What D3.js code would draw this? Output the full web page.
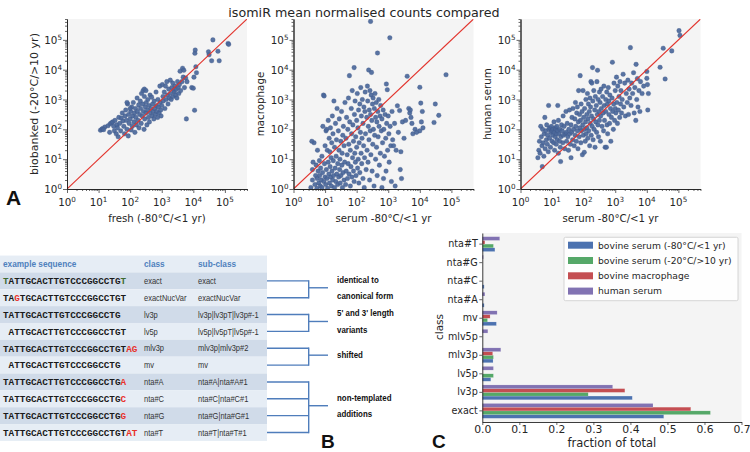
<!DOCTYPE html>
<html><head><meta charset="utf-8">
<script src="https://cdn.jsdelivr.net/npm/d3@7"></script>
<style>body{margin:0;background:#fff;} svg{display:block;}</style>
</head><body><svg id="c" width="750" height="452"></svg>
<script>
// ---------------- DATA ----------------
const title = "isomiR mean normalised counts compared";
// scatter values as log10(mean normalised count): [x, y]
const panelA = [[1.06,1.97],[1.1,2.0],[1.13,2.03],[1.2,2.08],[1.16,1.99],[1.3,2.12],[1.35,1.9],[1.37,2.19],[1.41,2.22],[1.45,2.25],[1.48,2.1],[1.5,1.95],[1.52,2.3],[1.56,1.85],[1.58,2.15],[1.6,2.05],[1.62,1.75],[1.64,2.4],[1.67,2.2],[1.7,1.95],
[1.72,2.38],[1.75,2.55],[1.77,2.28],[1.8,2.1],[1.82,1.85],[1.84,2.45],[1.86,2.65],[1.88,2.3],[1.9,2.0],[1.92,2.85],[1.94,1.78],[1.95,2.5],[1.97,2.2],[2.0,2.35],[2.02,2.6],[2.03,1.98],[2.05,2.75],[2.07,2.1],[2.08,2.45],[2.1,2.9],[2.12,2.25],[2.14,2.55],[2.15,1.9],[2.17,2.7],[2.18,2.4],[2.2,2.15],[2.22,3.05],[2.23,2.6],[2.25,2.3],[2.27,2.82],[2.28,2.05],[2.3,2.5],
[2.32,2.95],[2.33,2.7],[2.35,2.2],[2.36,3.2],[2.38,2.45],[2.4,2.85],[2.41,3.3],[2.42,2.6],[2.44,2.0],[2.45,3.1],[2.46,2.35],[2.48,2.75],[2.5,2.55],[2.51,2.9],[2.53,2.15],[2.55,2.65],[2.56,3.0],[2.58,2.4],[2.6,2.8],[2.61,2.25],[2.63,3.15],[2.64,2.55],[2.66,2.7],[2.68,3.08],[2.7,2.45],[2.71,2.85],[2.73,2.6],[2.75,2.35],[2.76,2.95],[2.78,2.7],[2.8,2.5],[2.82,3.25],[2.83,2.8],[2.85,2.6],[2.87,2.4],[2.88,3.0],[2.9,2.75],[2.92,2.55],[2.94,3.45],[2.95,2.9],[2.97,2.65],[2.98,2.45],[3.0,2.8],[2.45,3.35],[2.5,3.3],[2.0,2.7],[1.9,2.9],
[3.02,3.5],[3.04,3.1],[3.05,2.95],[3.08,3.25],[3.1,2.7],[3.12,3.45],[3.14,3.0],[3.16,3.6],[3.18,3.15],[3.2,2.85],[3.22,3.35],[3.24,3.05],[3.27,3.65],[3.28,3.2],[3.3,3.0],[3.32,3.4],[3.35,3.55],[3.36,3.1],[3.38,3.3],[3.4,3.25],[3.42,3.45],[3.44,3.15],[3.46,3.35],[3.48,3.05],[3.5,3.6],[3.52,3.4],[3.54,3.2],[3.56,3.5],[3.58,3.95],[3.6,3.3],
[3.64,3.6],[3.66,4.05],[3.68,3.75],[3.7,3.98],[3.72,3.4],[3.76,3.72],[3.78,2.35],[3.8,3.6],[3.95,3.4],[4.0,3.38],[4.02,3.75],[4.04,2.64],[4.05,4.55],[4.06,4.66],[4.08,4.1],[4.1,3.9],
[4.48,4.6],[4.5,4.5],[4.58,4.3],[4.62,5.0],[4.78,4.62],[4.82,4.3],[5.1,4.88],[5.12,4.85]];

const panelB = [[0.55,0.05],[0.6,0.3],[0.6,0.65],[0.62,0.9],[0.65,1.55],[0.58,1.6],[0.68,0.15],[0.7,0.45],[0.72,0.8],[0.74,0.02],[0.75,0.35],[0.76,1.3],[0.78,0.6],[0.8,0.2],[0.82,0.95],[0.83,0.45],[0.85,0.1],[0.86,0.7],[0.88,0.3],[0.9,1.1],[0.9,0.05],[0.92,0.55],[0.93,2.1],[0.95,3.15],[0.96,0.25],[0.97,3.12],[0.98,0.85],[1.0,0.4],[1.0,1.45],[1.02,0.15],[1.03,1.95],[1.04,0.65],[1.05,2.0],[1.06,0.35],[1.07,1.3],[1.08,0.02],[1.1,0.9],[1.1,2.3],[1.12,0.5],[1.13,1.7],[1.14,0.2],[1.15,1.25],[1.16,0.75],[1.17,2.05],[1.18,0.4],[1.19,1.05],[1.2,0.1],[1.21,1.55],[1.22,0.6],[1.23,2.45],[1.24,0.3],[1.25,1.85],[1.26,0.95],[1.27,0.45],[1.28,2.95],[1.3,0.05],[1.3,1.4],[1.32,0.7],[1.33,2.2],[1.34,0.25],[1.35,1.1],[1.36,1.65],[1.37,0.5],[1.38,2.7],[1.4,0.15],[1.4,0.85],[1.42,1.95],[1.43,0.4],[1.44,1.3],[1.45,2.35],[1.46,0.65],[1.47,1.0],[1.48,0.2],[1.5,1.6],[1.5,0.45],[1.52,2.6],[1.53,0.8],[1.54,1.2],[1.55,0.05],[1.56,1.8],[1.57,0.55],[1.58,2.1],[1.6,0.3],[1.6,1.45],[1.62,0.9],[1.63,2.9],
[1.65,0.15],[1.66,1.7],[1.67,0.6],[1.68,2.4],[1.7,1.15],[1.71,0.35],[1.72,2.0],[1.73,0.85],[1.74,3.05],[1.75,1.5],[1.76,0.5],[1.77,3.8],[1.78,2.25],[1.8,0.1],[1.8,1.3],[1.82,0.75],[1.83,2.7],[1.84,1.85],[1.85,0.4],[1.86,3.3],[1.87,1.05],[1.88,2.15],[1.9,0.6],[1.9,1.6],[1.92,4.07],[1.92,0.25],[1.93,2.5],[1.94,1.2],[1.95,2.95],[1.96,0.9],[1.97,1.75],[1.98,0.45],[2.0,2.3],[2.0,1.4],[2.02,3.2],[2.03,0.7],[2.04,2.05],[2.05,1.0],[2.06,2.65],[2.07,0.2],[2.08,1.55],[2.1,2.85],[2.1,0.55],[2.12,1.9],[2.13,3.4],[2.14,1.2],[2.15,2.45],[2.16,0.85],[2.17,1.7],[2.18,3.0],[2.2,0.35],[2.2,2.2],[2.22,1.45],[2.23,2.75],[2.24,0.05],[2.25,1.05],[2.26,2.6],[2.27,3.25],[2.28,1.85],[2.3,0.65],
[2.32,2.4],[2.33,1.3],[2.34,3.45],[2.35,2.95],[2.36,0.9],[2.37,2.1],[2.38,3.99],[2.39,1.65],[2.4,2.65],[2.41,0.3],[2.42,3.3],[2.43,1.95],[2.44,5.62],[2.44,2.5],[2.45,1.15],[2.46,3.15],[2.47,3.91],[2.48,2.3],[2.49,0.6],[2.5,2.85],[2.51,1.5],[2.52,3.05],[2.53,2.0],[2.55,0.1],[2.56,2.7],[2.57,1.8],[2.58,3.2],[2.6,2.4],[2.6,1.0],[2.62,2.9],[2.63,1.4],[2.64,2.25],[2.65,0.45],[2.66,4.56],[2.67,2.6],[2.68,1.75],[2.7,3.0],[2.71,2.1],[2.72,0.8],[2.74,2.45],[2.75,1.2],[2.76,2.8],[2.78,1.95],[2.8,0.05],[2.8,2.35],[2.82,1.55],[2.84,2.65],[2.85,0.35],[2.86,2.0],[2.88,1.1],[2.9,2.5],[2.92,1.7],[2.93,0.6],[2.94,3.52],[2.95,2.2],[2.97,3.33],[2.98,1.3],[3.0,2.45],
[3.02,1.85],[3.03,0.9],[3.05,5.07],[3.06,2.1],[3.08,1.45],[3.1,0.25],[3.12,2.6],[3.14,1.65],[3.17,1.45],[3.2,2.2],[3.22,0.1],[3.25,1.3],[3.29,2.79],[3.32,1.9],[3.36,2.63],[3.38,0.65],[3.4,1.25],[3.42,0.35],[3.45,2.25],
[3.5,1.7],[3.55,2.3],[3.6,3.78],[3.65,2.7],[3.68,2.55],[3.7,2.65],[3.72,2.4],[3.75,2.2],[3.78,1.85],[3.85,2.0],[3.9,1.9],[4.0,3.41],[4.0,1.95],[4.03,2.88],[4.05,2.25],[4.08,2.6],[4.1,2.05],[4.45,2.23],[4.49,2.85],[4.6,2.47],[4.83,3.83]];

const panelC = [[0.55,1.05],[0.58,1.3],[0.6,1.6],[0.62,1.2],[0.64,2.1],[0.66,1.75],[0.68,1.45],[0.69,0.75],[0.7,2.0],[0.72,1.55],[0.74,1.1],[0.75,1.85],[0.77,2.4],[0.78,1.35],[0.8,1.95],[0.82,1.65],[0.83,2.15],[0.85,1.5],[0.86,1.8],[0.88,1.25],[0.89,2.8],[0.9,2.0],[0.92,1.7],[0.93,2.05],[0.95,1.4],[0.96,1.9],[0.98,2.1],[1.0,1.6],[1.0,1.95],[1.02,1.8],[1.03,2.0],[1.05,1.55],[1.06,2.25],[1.07,1.9],[1.08,1.3],[1.1,2.05],[1.1,1.75],[1.12,2.0],[1.13,1.5],[1.14,1.85],[1.15,2.1],[1.16,1.65],[1.18,2.8],[1.18,1.95],[1.2,1.2],[1.2,2.3],[1.22,1.85],[1.24,1.6],[1.25,2.0],[1.26,1.4],[1.27,0.92],[1.28,1.75],[1.3,2.15],
[1.32,1.95],[1.34,1.55],[1.35,2.45],[1.36,1.8],[1.38,2.1],[1.4,1.35],[1.42,1.85],[1.44,2.6],[1.45,1.9],[1.46,1.6],[1.48,2.2],[1.5,1.75],[1.52,1.3],[1.53,2.0],[1.55,2.65],[1.56,1.85],[1.58,1.5],[1.6,2.15],[1.6,1.05],[1.62,1.9],[1.63,2.4],[1.65,1.65],[1.66,2.7],[1.68,2.0],[1.7,1.45],[1.72,2.35],[1.73,1.8],[1.74,2.9],[1.75,2.1],[1.77,1.6],[1.78,2.55],[1.8,1.95],[1.8,2.75],[1.82,1.35],[1.83,2.25],[1.84,3.3],[1.86,1.75],[1.87,2.5],[1.88,2.05],[1.89,3.8],[1.9,2.3],[1.91,1.55],[1.92,2.85],[1.93,1.95],[1.95,2.6],[1.96,1.15],[1.97,2.15],[1.98,3.3],[1.99,1.8],[2.0,2.4],
[2.02,1.23],[2.02,2.0],[2.03,2.7],[2.05,1.6],[2.06,2.25],[2.07,3.0],[2.08,1.85],[2.1,2.5],[2.1,2.05],[2.12,3.2],[2.13,1.7],[2.14,2.35],[2.15,2.85],[2.16,1.95],[2.18,2.6],[2.19,1.45],[2.2,3.05],[2.21,2.2],[2.22,2.75],[2.23,3.6],[2.24,1.8],[2.25,2.45],[2.26,3.55],[2.27,2.1],[2.28,4.07],[2.29,2.95],[2.3,1.65],[2.31,2.35],[2.32,3.3],[2.33,2.0],[2.35,2.65],[2.36,1.4],[2.37,3.1],[2.38,2.25],[2.4,2.8],[2.41,1.9],[2.42,3.6],[2.43,2.5],[2.44,3.98],[2.45,2.15],[2.46,3.0],[2.47,1.75],[2.48,2.6],[2.5,3.25],[2.5,2.3],[2.52,2.9],[2.53,1.6],[2.54,2.45],[2.55,3.35],[2.56,2.7],[2.58,2.1],[2.6,3.1],
[2.62,2.55],[2.63,1.95],[2.64,3.45],[2.65,2.8],[2.66,2.3],[2.68,1.4],[2.7,3.0],[2.7,2.6],[2.72,1.4],[2.73,3.25],[2.74,2.15],[2.75,2.85],[2.76,1.85],[2.78,3.4],[2.8,2.5],[2.8,2.95],[2.82,2.2],[2.83,3.15],[2.85,2.7],[2.86,1.6],[2.88,2.4],[2.9,3.05],[2.91,4.25],[2.92,2.6],[2.94,2.0],[2.95,2.85],[2.96,3.55],[2.98,2.3],[3.0,2.7],[3.0,3.3],[3.02,2.55],[3.04,3.75],[3.05,2.9],[3.07,2.2],[3.08,3.45],[3.1,2.65],[3.12,3.1],[3.14,2.4],[3.15,3.6],[3.17,2.85],[3.18,3.3],[3.2,2.55],
[3.22,3.0],[3.25,3.85],[3.27,2.75],[3.3,3.55],[3.32,2.45],[3.35,3.2],[3.38,2.9],[3.4,3.65],[3.42,2.5],[3.44,3.35],[3.46,3.05],[3.48,4.74],[3.5,2.8],[3.52,3.55],[3.55,3.2],[3.58,3.9],[3.6,2.55],[3.62,3.4],[3.65,2.3],[3.66,4.18],[3.68,3.0],[3.7,3.7],[3.72,2.75],[3.75,3.3],[3.78,2.6],[3.8,3.6],[3.85,3.2],[3.9,3.45],[4.0,3.94],[4.0,3.71],[4.02,3.5],[4.03,2.65],[4.05,3.2],
[4.42,4.08],[4.52,4.72],[4.58,3.69],[4.79,4.63],[5.02,5.31],[5.05,5.15]];

const scatterXLabels = ["fresh (-80°C/<1 yr)", "serum -80°C/<1 yr", "serum -80°C/<1 yr"];
const scatterYLabels = ["biobanked (-20°C/>10 yr)", "macrophage", "human serum"];
const decadeTicks = [0, 1, 2, 3, 4, 5];

// table B
const tableHeader = ["example sequence", "class", "sub-class"];
const seqParts = [
  [["T","g"],["ATTGCACTTGTCCCGGCCTG",""],["T","g"]],
  [["TA",""],["G","r"],["TGCACTTGTCCCGGCCTGT",""]],
  [["TATTGCACTTGTCCCGGCCTG",""]],
  [[" ATTGCACTTGTCCCGGCCTGT",""]],
  [["TATTGCACTTGTCCCGGCCTGT",""],["AG","r"]],
  [[" ATTGCACTTGTCCCGGCCTG",""]],
  [["TATTGCACTTGTCCCGGCCTG",""],["A","r"]],
  [["TATTGCACTTGTCCCGGCCTG",""],["C","r"]],
  [["TATTGCACTTGTCCCGGCCTG",""],["G","r"]],
  [["TATTGCACTTGTCCCGGCCTGT",""],["AT","r"]]
];
const tableClass = ["exact","exactNucVar","lv3p","lv5p","mlv3p","mv","nta#A","nta#C","nta#G","nta#T"];
const tableSubClass = ["exact","exactNucVar","lv3p|lv3pT|lv3p#-1","lv5p|lv5pT|lv5p#-1","mlv3p|mlv3p#2","mv","nta#A|nta#A#1","nta#C|nta#C#1","nta#G|nta#G#1","nta#T|nta#T#1"];
const groupRows = [[0,1],[2,3],[4,5],[6,7,8,9]];
const groupLabels = [["identical to","canonical form"],["5' and 3' length","variants"],["shifted"],["non-templated","additions"]];

// bar chart C
const barClasses = ["exact","lv3p","lv5p","mlv3p","mlv5p","mv","nta#A","nta#C","nta#G","nta#T"];
const seriesNames = ["bovine serum (-80°C/<1 yr)","bovine serum (-20°C/>10 yr)","bovine macrophage","human serum"];
const bovineSerum80 = [0.490,0.405,0.023,0.029,0,0.038,0.005,0.005,0,0.034];
const bovineSerum20 = [0.616,0.286,0.030,0.030,0,0.014,0,0,0,0.030];
const bovineMacrophage = [0.563,0.385,0,0.028,0,0.021,0,0,0,0.007];
const humanSerum = [0.461,0.352,0.030,0.050,0.015,0.040,0.007,0,0.003,0.047];
const seriesValues = [bovineSerum80, bovineSerum20, bovineMacrophage, humanSerum];
const seriesColors = ["#4c72b0","#55a868","#c44e52","#8172b2"];
const fractionTicks = [0,0.1,0.2,0.3,0.4,0.5,0.6,0.7];

// ---------------- DRAW ----------------
const svg = d3.select("#c");
const MPL = "'DejaVu Sans', sans-serif";
const ink = "#262626";

svg.append("text").attr("x", 364).attr("y", 16.5).attr("text-anchor","middle")
  .style("font-family", MPL).style("font-size","12.7px").attr("fill", ink).text(title);

// ---- scatter panels
const sTop = 19, sBottom = 189, sW = 180;
const lefts = [67, 293.5, 520.5];
const panels = [panelA, panelB, panelC];
const minorTicks = [];
for (let d = 0; d <= 5; d++) for (let k = 2; k <= 9; k++) { const v = d + Math.log10(k); if (v <= 5.7) minorTicks.push(v); }

panels.forEach((data, i) => {
  const L = lefts[i];
  const x = d3.scaleLinear().domain([0, 5.7]).range([L, L + sW]);
  const y = d3.scaleLinear().domain([0, 5.7]).range([sBottom, sTop]);
  const g = svg.append("g");
  g.append("rect").attr("x", L).attr("y", sTop).attr("width", sW).attr("height", sBottom - sTop).attr("fill", "#f4f4f4");
  const cid = "clip" + i;
  svg.append("clipPath").attr("id", cid).append("rect").attr("x", L).attr("y", sTop).attr("width", sW).attr("height", sBottom - sTop);
  const pg = g.append("g").attr("clip-path", `url(#${cid})`);
  pg.selectAll("circle").data(data).join("circle")
    .attr("cx", d => x(d[0])).attr("cy", d => y(d[1])).attr("r", 2.3)
    .attr("fill", "#4a679a").attr("fill-opacity", 0.92).attr("stroke", "#3c5686").attr("stroke-width", 0.3);
  pg.append("line").attr("x1", x(0)).attr("y1", y(0)).attr("x2", x(5.7)).attr("y2", y(5.7))
    .attr("stroke", "#e2332c").attr("stroke-width", 1.1);

  // axes
  const xa = g.append("g").attr("transform", `translate(0,${sBottom})`);
  xa.call(d3.axisBottom(x).tickValues(minorTicks).tickSize(2).tickSizeOuter(0).tickFormat(""));
  xa.append("g").call(d3.axisBottom(x).tickValues(decadeTicks).tickSize(4).tickSizeOuter(0).tickFormat(""));
  const ya = g.append("g").attr("transform", `translate(${L},0)`);
  ya.call(d3.axisLeft(y).tickValues(minorTicks).tickSize(2).tickSizeOuter(0).tickFormat(""));
  ya.append("g").call(d3.axisLeft(y).tickValues(decadeTicks).tickSize(4).tickSizeOuter(0).tickFormat(""));
  g.selectAll(".domain").attr("stroke", ink).attr("stroke-width", 0.9);
  g.selectAll(".tick line").attr("stroke", ink).attr("stroke-width", 0.7);
  // tick labels 10^k
  decadeTicks.forEach(v => {
    const t = g.append("text").attr("x", x(v)).attr("y", 205.5).attr("text-anchor", "middle")
      .style("font-family", MPL).style("font-size", "10.3px").attr("fill", ink);
    t.append("tspan").text("10");
    t.append("tspan").attr("dy", -4).style("font-size", "7.2px").text(v);
    const t2 = g.append("text").attr("x", L - 5).attr("y", y(v) + 4).attr("text-anchor", "end")
      .style("font-family", MPL).style("font-size", "10.3px").attr("fill", ink);
    t2.append("tspan").text("10");
    t2.append("tspan").attr("dy", -4).style("font-size", "7.2px").text(v);
  });
  g.append("text").attr("x", L + sW / 2).attr("y", 222).attr("text-anchor", "middle")
    .style("font-family", MPL).style("font-size", "10.2px").attr("fill", ink).text(scatterXLabels[i]);
  g.append("text").attr("transform", `translate(${L - 29.5},${(sTop + sBottom) / 2}) rotate(-90)`)
    .attr("text-anchor", "middle").style("font-family", MPL).style("font-size", i === 0 ? "11px" : "10.3px")
    .attr("fill", ink).text(scatterYLabels[i]);
});

// ---- panel letters
const letter = (txt, x, y, fs) => svg.append("text").attr("x", x).attr("y", y)
  .style("font-family", "'Liberation Sans', Arial, sans-serif").style("font-weight", "bold").style("font-size", fs + "px")
  .attr("fill", "#111").text(txt);
letter("A", 6, 204.5, 21); letter("B", 321, 447.5, 19); letter("C", 432, 448, 19);

// ---- table B
const rowStep = 16.85, headY = 264, tableW = 267;
const rowY = d3.range(tableClass.length).map(i => headY + rowStep * (i + 1));
const tb = svg.append("g");
tb.append("rect").attr("x", 0).attr("y", headY - rowStep / 2).attr("width", tableW).attr("height", rowStep).attr("fill", "#e6edf5");
tb.selectAll("rect.row").data(rowY).join("rect").attr("class", "row")
  .attr("x", 0).attr("y", d => d - rowStep / 2).attr("width", tableW).attr("height", rowStep)
  .attr("fill", (d, i) => i % 2 === 0 ? "#d0dbe9" : "#e6edf5");
const colX = [3, 144, 198];
const sans = "'Liberation Sans', Arial, sans-serif";
tableHeader.forEach((h, j) => {
  tb.append("text").attr("transform", `translate(${colX[j]},${headY + 3.2}) scale(0.92,1)`)
    .style("font-family", sans).style("font-weight", "bold").style("font-size", "9px").attr("fill", "#4f81bd").text(h);
});
const segColor = { "": "#1a1a1a", g: "#3f6a32", r: "#e8312a" };
seqParts.forEach((parts, i) => {
  const t = tb.append("text").attr("x", colX[0]).attr("y", rowY[i] + 3.3).attr("xml:space", "preserve")
    .style("white-space", "pre").style("font-family", "'Liberation Mono', 'Courier New', monospace")
    .style("font-weight", "bold").style("font-size", "9.33px");
  parts.forEach(p => t.append("tspan").attr("fill", segColor[p[1]]).text(p[0]));
});
[tableClass, tableSubClass].forEach((col, j) => {
  tb.selectAll(null).data(col).join("text")
    .attr("transform", (d, i) => `translate(${colX[j + 1]},${rowY[i] + 3.2}) scale(0.8,1)`)
    .style("font-family", sans).style("font-size", "9.4px").attr("fill", "#333").text(d => d);
});
// tree
const treeColor = "#4f7dbb", vX = 308.7, stubX = 328;
groupRows.forEach((rows, gi) => {
  rows.forEach(r => tb.append("line").attr("x1", tableW).attr("x2", vX).attr("y1", rowY[r]).attr("y2", rowY[r])
    .attr("stroke", treeColor).attr("stroke-width", 1.4));
  const y0 = rowY[rows[0]], y1 = rowY[rows[rows.length - 1]], ym = (y0 + y1) / 2 - 1.5;
  tb.append("line").attr("x1", vX).attr("x2", vX).attr("y1", y0 - 0.7).attr("y2", y1 + 0.7).attr("stroke", treeColor).attr("stroke-width", 1.4);
  tb.append("line").attr("x1", vX).attr("x2", stubX).attr("y1", ym).attr("y2", ym).attr("stroke", treeColor).attr("stroke-width", 1.4);
  const lab = groupLabels[gi];
  lab.forEach((s, k) => {
    const cy = ym + (k - (lab.length - 1) / 2) * 16.8;
    tb.append("text").attr("transform", `translate(337,${cy + 3.3}) scale(0.86,1)`)
      .style("font-family", sans).style("font-weight", "bold").style("font-size", "9.2px").attr("fill", "#111").text(s);
  });
});

// ---- bar chart C
const cL = 482.3, cR = 741.5, cT = 233, cB = 422;
const bx = d3.scaleLinear().domain([0, 0.7]).range([cL, cR]);
const by = d3.scaleBand().domain(barClasses).range([cB, cT]).paddingInner(0).paddingOuter(0.1);
const sub = d3.scaleBand().domain(d3.range(4).reverse()).range([0, by.bandwidth() * 0.8]);
const cg = svg.append("g");
cg.append("rect").attr("x", cL).attr("y", cT).attr("width", cR - cL).attr("height", cB - cT).attr("fill", "#f4f4f4");
seriesValues.forEach((vals, s) => {
  cg.append("g").selectAll("rect").data(vals).join("rect")
    .attr("x", bx(0)).attr("width", d => bx(d) - bx(0))
    .attr("y", (d, i) => by(barClasses[i]) + by.bandwidth() * 0.1 + sub(s)).attr("height", sub.bandwidth())
    .attr("fill", seriesColors[s]).attr("stroke", "#ffffff").attr("stroke-opacity", 0.35).attr("stroke-width", 0.4);
});
const cxa = cg.append("g").attr("transform", `translate(0,${cB})`)
  .call(d3.axisBottom(bx).tickValues(fractionTicks).tickFormat(d3.format(".1f")).tickSize(3).tickPadding(0).tickSizeOuter(0));
cxa.selectAll("text").style("font-family", MPL).style("font-size", "10.8px").attr("fill", ink);
const cya = cg.append("g").attr("transform", `translate(${cL},0)`)
  .call(d3.axisLeft(by).tickSize(3).tickPadding(1.5).tickSizeOuter(0));
cya.selectAll("text").style("font-family", MPL).style("font-size", "9.6px").attr("fill", ink);
cg.selectAll(".domain").attr("stroke", ink).attr("stroke-width", 0.9);
cg.selectAll(".tick line").attr("stroke", ink).attr("stroke-width", 0.7);
cg.append("text").attr("x", (cL + cR) / 2).attr("y", 446.5).attr("text-anchor", "middle")
  .style("font-family", MPL).style("font-size", "11.5px").attr("fill", ink).text("fraction of total");
cg.append("text").attr("transform", `translate(443,327) rotate(-90)`).attr("text-anchor", "middle")
  .style("font-family", MPL).style("font-size", "10.5px").attr("fill", ink).text("class");
// legend
const lg = cg.append("g");
lg.append("rect").attr("x", 564).attr("y", 237.3).attr("width", 174).attr("height", 63.4).attr("rx", 1.5)
  .attr("fill", "#ffffff").attr("fill-opacity", 0.85).attr("stroke", "#cccccc").attr("stroke-width", 0.8);
seriesNames.forEach((n, s) => {
  const yy = 245.2 + s * 15.3;
  lg.append("rect").attr("x", 568).attr("y", yy - 3.5).attr("width", 25).attr("height", 7).attr("fill", seriesColors[s]);
  lg.append("text").attr("x", 598).attr("y", yy + 3.3).style("font-family", MPL).style("font-size", "9.2px").attr("fill", ink).text(n);
});
</script>
</body></html>
